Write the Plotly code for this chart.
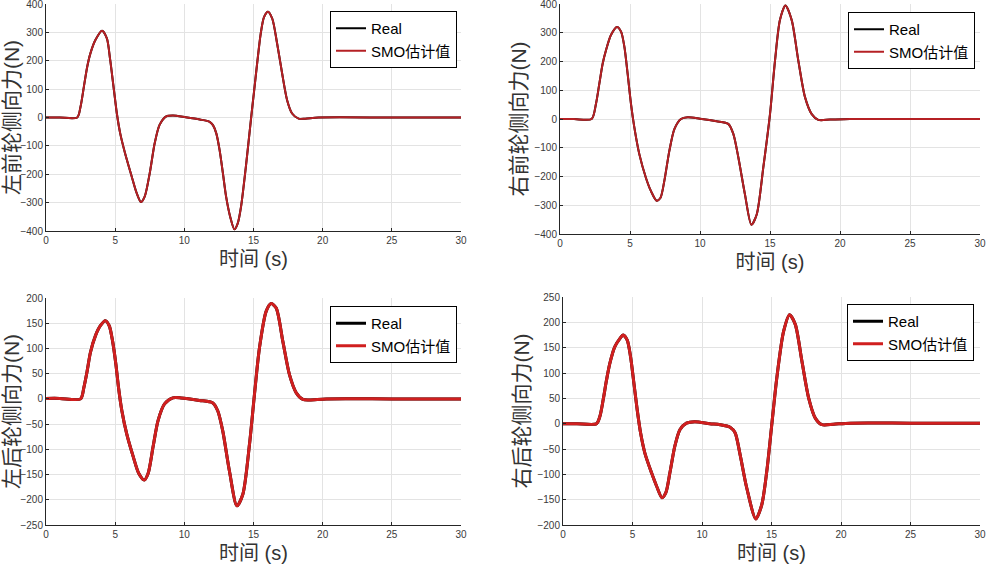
import plotly.graph_objects as go

# ---------------- data ----------------
t_lf = [0, 1, 2.26, 2.5, 2.74, 2.98, 3.21, 3.57, 4.05, 4.4, 4.64, 4.88, 5.12, 5.36, 5.71, 6.19, 6.55, 6.86, 7.14, 7.5,
        7.86, 8.21, 8.69, 9.17, 10.1, 11.12, 11.83, 12.07, 12.31, 12.55, 12.79, 13.02, 13.31, 13.62, 13.86, 14.1,
        14.45, 14.81, 15.05, 15.29, 15.52, 15.76, 16.05, 16.36, 16.71, 17.07, 17.43, 17.79, 18.26, 18.74, 19.7, 25, 30]
v_lf = [0, 0, 0, 39, 109, 179, 226, 273, 306, 279, 203, 109, 15, -55, -125, -207, -266, -298, -278, -196,
        -90, -26, 4, 7, 1, -7, -15, -27, -56, -115, -197, -279, -349, -394, -373, -314,
        -173, -9, 96, 202, 295, 354, 373, 348, 260, 155, 61, 14, -4, -4, 0, 0, 0]

t_rf = [0, 1, 2.26, 2.57, 2.81, 3.05, 3.29, 3.64, 4.07, 4.36, 4.6, 4.83, 5.07, 5.31, 5.67, 6.14, 6.5, 6.9, 7.17, 7.45,
        7.81, 8.17, 8.64, 9.12, 10.0, 11.19, 12.02, 12.38, 12.74, 13.21, 13.67, 14.05, 14.52, 15.0, 15.36, 15.71,
        16.1, 16.55, 17.02, 17.5, 17.98, 18.45, 19.29, 20.7, 25, 30]
v_rf = [0, 0, 0, 53, 123, 193, 240, 292, 320, 304, 251, 158, 53, -29, -123, -205, -251, -284, -275, -216,
        -111, -35, 0, 6, 1, -8, -17, -52, -134, -262, -368, -332, -169, 17, 204, 344,
        395, 344, 204, 76, 17, -3, -2, 0, 0, 0]

t_lr = [0, 1, 2.5, 2.74, 2.98, 3.21, 3.57, 3.93, 4.29, 4.57, 4.81, 5.05, 5.24, 5.48, 5.83, 6.31, 6.71, 7.1, 7.38, 7.74,
        8.1, 8.57, 9.17, 9.76, 11.09, 12.06, 12.42, 12.78, 13.26, 13.8, 14.23, 14.71, 15.07, 15.43, 15.92, 16.28,
        16.64, 17.12, 17.6, 18.09, 18.57, 19.05, 20.26, 25, 30]
v_lr = [1, 1, 0, 23, 56, 92, 125, 145, 155, 145, 115, 69, 23, -23, -69, -115, -148, -161, -148, -95,
        -43, -10, 2, 2, -3, -8, -24, -64, -143, -212, -189, -90, 9, 101, 174, 189,
        180, 114, 48, 12, -1, -2, 0, 0, 0]

t_rr = [0, 1, 2.41, 2.65, 2.89, 3.13, 3.37, 3.73, 4.09, 4.33, 4.62, 4.86, 5.1, 5.34, 5.58, 5.89, 6.37, 6.73, 7.12, 7.4,
        7.69, 8.05, 8.41, 8.88, 9.48, 10.56, 11.3, 12.02, 12.38, 12.74, 13.22, 13.87, 14.3, 14.66, 15.02, 15.38,
        15.87, 16.3, 16.71, 17.19, 17.67, 18.15, 18.63, 19.47, 20.67, 25, 30]
v_rr = [0, 0, 0, 14, 47, 86, 119, 152, 168, 175, 165, 132, 80, 27, -18, -58, -97, -123, -146, -136,
        -97, -44, -12, 1, 4, 0, -2, -7, -18, -61, -127, -188, -160, -94, -2, 90,
        182, 215, 196, 123, 51, 11, -2, -1, 1, 1, 1]

# SMO estimates overlap the real values at the resolution of the picture
s_lf = list(v_lf)
s_rf = list(v_rf)
s_lr = list(v_lr)
s_rr = list(v_rr)

y_titles = ["左前轮侧向力(N)", "右前轮侧向力(N)", "左后轮侧向力(N)", "右后轮侧向力(N)"]
x_title = "时间 (s)"
names = ["Real", "SMO估计值"]
y_ranges = [[-400, 400], [-400, 400], [-250, 200], [-200, 250]]
y_dtick = [100, 100, 50, 50]

# ---------------- figure ----------------
W, H = 986, 568
# plot boxes in pixels: (left, right, top, bottom)
boxes = [(46, 461, 4, 231), (560, 980, 4, 234), (46, 461, 298, 525), (563, 980, 297, 525)]
legends = [(330, 11), (848, 12), (330, 306), (847, 304)]

series = [(t_lf, v_lf, s_lf), (t_rf, v_rf, s_rf), (t_lr, v_lr, s_lr), (t_rr, v_rr, s_rr)]
widths = [2, 2, 3, 3]
smo_colors = ["#B52024", "#B52024", "#D01F1F", "#D01F1F"]

fig = go.Figure()
font_cjk = "Liberation Sans, Arial, Noto Sans CJK SC, sans-serif"
layout = dict(
    width=W, height=H, margin=dict(l=0, r=0, t=0, b=0, autoexpand=False),
    paper_bgcolor="white", plot_bgcolor="white",
    font=dict(family=font_cjk, color="#262626"),
)
for i, ((t, real, smo), (l, r, tp, bt)) in enumerate(zip(series, boxes)):
    k = "" if i == 0 else str(i + 1)
    lg = "legend" + k
    fig.add_trace(go.Scatter(x=t, y=real, mode="lines", name=names[0], line=dict(color="black", width=widths[i], shape="spline", smoothing=0.75),
                             xaxis="x" + k, yaxis="y" + k, legend=lg))
    fig.add_trace(go.Scatter(x=t, y=smo, mode="lines", name=names[1], line=dict(color=smo_colors[i], width=widths[i], shape="spline", smoothing=0.75),
                             xaxis="x" + k, yaxis="y" + k, legend=lg))
    layout["xaxis" + k] = dict(
        domain=[l / W, r / W], anchor="y" + k, range=[0, 30], dtick=5, automargin=False,
        showgrid=True, gridcolor="#E3E3E3", gridwidth=1, zeroline=False, ticklabeloverflow="allow",
        showline=True, linecolor="#262626", linewidth=1, ticks="inside", ticklen=3, tickcolor="#262626",
        tickfont=dict(size=10, color="#3a3a3a"),
        title=dict(text=x_title, font=dict(size=20, color="#333333"), standoff=6),
    )
    layout["yaxis" + k] = dict(
        domain=[1 - bt / H, 1 - tp / H], anchor="x" + k, range=y_ranges[i], dtick=y_dtick[i], automargin=False,
        showgrid=True, gridcolor="#E3E3E3", gridwidth=1, zeroline=False, ticklabeloverflow="allow",
        showline=True, linecolor="#262626", linewidth=1, ticks="inside", ticklen=3, tickcolor="#262626",
        tickfont=dict(size=10, color="#3a3a3a"),
        title=dict(text=y_titles[i], font=dict(size=21, color="#333333"), standoff=2),
    )
    lx, ly = legends[i]
    layout[lg] = dict(
        x=lx / W, y=1 - ly / H, xanchor="left", yanchor="top",
        bgcolor="white", bordercolor="black", borderwidth=1,
        font=dict(size=15, color="black", family=font_cjk),
        tracegroupgap=0, itemwidth=30,
    )

fig.update_layout(**layout)
fig.write_html("out.html", config={"displayModeBar": False},
               post_script="document.body.style.margin='0';document.body.style.overflow='hidden';")
